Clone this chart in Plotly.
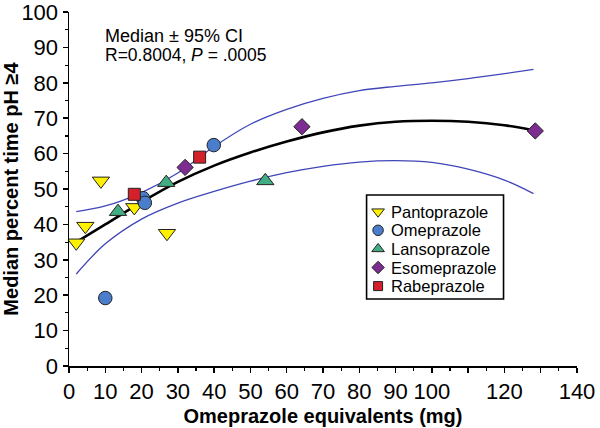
import plotly.graph_objects as go

# ---- data ----
panto_x = [2.0, 4.5, 8.8, 18.0, 27.0]
panto_y = [34.8, 39.5, 52.3, 44.8, 37.5]
omep_x = [10.0, 20.4, 20.9, 39.9]
omep_y = [19.2, 47.4, 46.1, 62.4]
lanso_x = [13.5, 26.8, 54.1]
lanso_y = [43.6, 51.8, 52.3]
esome_x = [32.0, 64.2, 128.5]
esome_y = [56.1, 67.6, 66.4]
rabe_x = [18.0, 36.0]
rabe_y = [48.5, 59.0]

curve_x = [2, 10, 20, 30, 40, 50, 60, 70, 80, 90, 100, 110, 120, 128]
fit_y = [35.0, 40.0, 46.3, 52.0, 56.6, 60.3, 63.4, 66.0, 67.9, 69.0, 69.3, 69.0, 68.0, 66.6]
upper_y = [43.6, 45.2, 49.0, 54.5, 62.0, 68.3, 72.5, 75.6, 77.8, 79.0, 80.0, 81.2, 82.6, 83.8]
lower_y = [26.0, 34.5, 41.5, 46.0, 49.3, 52.2, 54.6, 56.4, 57.6, 58.0, 57.5, 55.6, 52.5, 48.7]

drug_names = ["Pantoprazole", "Omeprazole", "Lansoprazole", "Esomeprazole", "Rabeprazole"]

x_ticks = [0, 10, 20, 30, 40, 50, 60, 70, 80, 90, 100, 110, 120, 130, 140]
x_ticktext = ["0", "10", "20", "30", "40", "50", "60", "70", "80", "90", "100", "", "120", "", "140"]
y_ticks = [0, 10, 20, 30, 40, 50, 60, 70, 80, 90, 100]

# ---- styling ----
FONT = "Liberation Sans, Arial, sans-serif"
CI_COLOR = "#4046B8"
EDGE = dict(color="#222222", width=1)
symbols = ["triangle-down", "circle", "triangle-up", "diamond", "square"]
colors = ["#FFF200", "#4A7DCB", "#42AD82", "#7D2C92", "#D3202B"]
sizes = [15, 13.5, 15, 12.5, 12]
legend_sizes = [11, 10.5, 11, 9.5, 9]

W, H = 600, 428
L, R, T, B = 69.3, 22.5, 12, 62

fig = go.Figure()

# regression line and confidence bands
for ys, col, wd in [(upper_y, CI_COLOR, 1.3), (lower_y, CI_COLOR, 1.3), (fit_y, "black", 2.6)]:
    fig.add_trace(go.Scatter(x=curve_x, y=ys, mode="lines", showlegend=False, hoverinfo="skip",
                             line=dict(color=col, width=wd, shape="spline", smoothing=1.0)))

# data series
series = [(panto_x, panto_y), (omep_x, omep_y), (lanso_x, lanso_y), (esome_x, esome_y), (rabe_x, rabe_y)]
for (xs, ys), name, sym, col, sz in zip(series, drug_names, symbols, colors, sizes):
    fig.add_trace(go.Scatter(x=xs, y=ys, mode="markers", name=name, showlegend=False,
                             marker=dict(symbol=sym, size=sz, color=col, line=EDGE)))

# ---- legend drawn on a pixel-coordinate overlay axis ----
box_left, box_right, box_top, box_bottom = 367, 504, 195, 299
row0, row_gap = 211.7, 18.6
sw_x, txt_x = 378.5, 389
for i, (name, sym, col, sz) in enumerate(zip(drug_names, symbols, colors, legend_sizes)):
    yy = row0 + i * row_gap
    fig.add_trace(go.Scatter(x=[sw_x], y=[yy], xaxis="x2", yaxis="y2", mode="markers",
                             showlegend=False, hoverinfo="skip",
                             marker=dict(symbol=sym, size=sz, color=col, line=EDGE)))
    fig.add_annotation(xref="x2", yref="y2", x=txt_x, y=yy, xanchor="left", yanchor="middle",
                       text=name, showarrow=False, font=dict(family=FONT, size=16.5, color="black"))
fig.add_shape(type="rect", xref="x2", yref="y2", x0=box_left, x1=box_right, y0=box_top, y1=box_bottom,
              line=dict(color="black", width=1.6), fillcolor="rgba(255,255,255,0)", layer="above")

axis_common = dict(
    showgrid=False, zeroline=False, showline=True, linecolor="black", linewidth=1.5,
    ticks="outside", ticklen=5, tickwidth=1.5, tickcolor="black", automargin=False,
    ticklabeloverflow="allow",
    tickfont=dict(family=FONT, size=22, color="black"),
    minor=dict(dtick=5, ticks="outside", ticklen=3, tickwidth=1.2, tickcolor="black"),
)

fig.update_layout(
    xaxis=dict(range=[0, 140], tickmode="array", tickvals=x_ticks, ticktext=x_ticktext,
               title=dict(text="<b>Omeprazole equivalents (mg)</b>", standoff=6,
                          font=dict(family=FONT, size=20, color="black")),
               **axis_common),
    yaxis=dict(range=[0, 100], tickmode="array", tickvals=y_ticks,
               title=dict(text="<b>Median percent time pH ≥4</b>", standoff=3,
                          font=dict(family=FONT, size=20, color="black")),
               **axis_common),
    xaxis2=dict(overlaying="x", range=[L, W - R], visible=False, fixedrange=True, automargin=False),
    yaxis2=dict(overlaying="y", range=[H - B, T], visible=False, fixedrange=True, automargin=False),
)

fig.add_annotation(xref="x2", yref="y2", x=103, y=35.5, xanchor="left", yanchor="middle",
                   text="Median ± 95% CI", showarrow=False,
                   font=dict(family=FONT, size=18, color="black"))
fig.add_annotation(xref="x2", yref="y2", x=103, y=55, xanchor="left", yanchor="middle",
                   text="R=0.8004, <i>P</i> = .0005", showarrow=False,
                   font=dict(family=FONT, size=17.5, color="black"))

fig.update_layout(
    width=W, height=H,
    margin=dict(l=L, r=R, t=T, b=B, autoexpand=False),
    paper_bgcolor="white", plot_bgcolor="white",
    font=dict(family=FONT, color="black"),
    showlegend=False,
)

fig.write_html("out.html", config={"displayModeBar": False, "staticPlot": True},
               post_script="document.body.style.margin='0';document.body.style.overflow='hidden';")
